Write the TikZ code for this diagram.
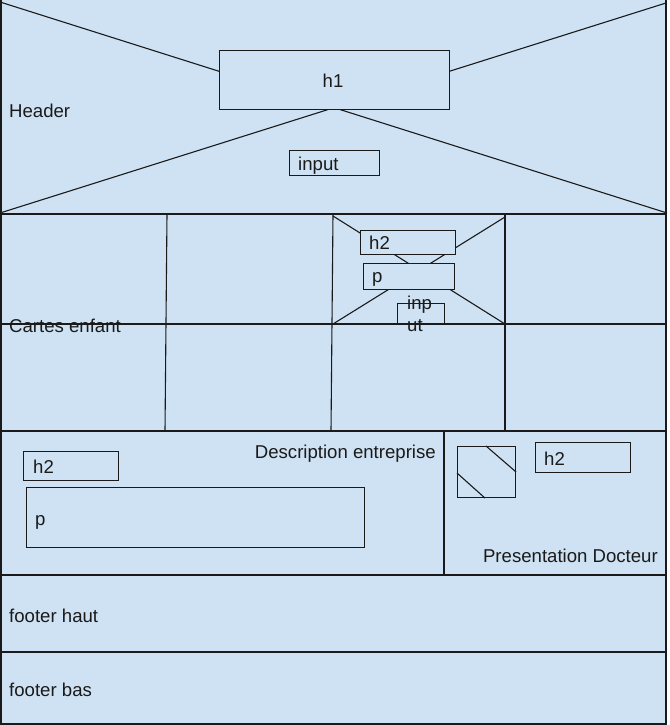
\documentclass[tikz,border=0pt]{standalone}
\usepackage{fontspec}
\setmainfont{Liberation Sans}
\definecolor{bg}{HTML}{CFE2F3}
\definecolor{ink}{HTML}{1A1A1A}
\begin{document}
\begin{tikzpicture}[x=1pt,y=-1pt,
  ln/.style={draw=ink, line width=1.1pt},
  box/.style={draw=ink, fill=bg, line width=1.1pt, inner sep=0pt, anchor=north west},
  lbl/.style={font=\fontsize{18.6}{21}\selectfont, text=ink, inner sep=0pt, anchor=base west},
]
\useasboundingbox (0,0) rectangle (669,725);
\fill[bg] (1,0) rectangle (666,724);

% corner / frame coordinates
\coordinate (tl) at (0,2);
\coordinate (tr) at (666,3);
\coordinate (hbl) at (0,213);
\coordinate (hbr) at (667,213);

% outer frame
\draw[ln] (1,0) -- (1,724) -- (666,724) -- (666,0);
% section dividers
\draw[ln] (1,214) -- (666,214);
\draw[ln] (1,324) -- (666,324);
\draw[ln] (1,431) -- (666,431);
\draw[ln] (1,575) -- (666,575);
\draw[ln] (1,652) -- (666,652);
% card columns
\draw[ln] (167,214) -- (165,431);
\draw[ln] (333,214) -- (331,431);
\draw[ln] (505,214) -- (505,431);
% presentation divider
\draw[ln] (444,431) -- (444,575);

% header cross
\draw[ln] (tl) -- (hbr);
\draw[ln] (tr) -- (hbl);
% card cross
\coordinate (ctl) at (333,216);
\coordinate (ctr) at (505,217);
\coordinate (cbl) at (333,324);
\coordinate (cbr) at (505,324);
\draw[ln] (ctl) -- (cbr);
\draw[ln] (ctr) -- (cbl);

% header boxes
\node[box, minimum width=230pt, minimum height=59pt] (h1) at (219,50) {};
\node[lbl, anchor=base] (h1t) at (333,88) {h1};
\node[box, minimum width=90pt, minimum height=25pt] (hin) at (289,150) {};
\node[lbl] (hint) at (298,170) {input};
\node[lbl] (hdr) at (9,117) {Header};

% card boxes
\node[box, minimum width=95pt, minimum height=24pt] (ch2) at (360,230) {};
\node[lbl] (ch2t) at (369,249) {h2};
\node[box, minimum width=91pt, minimum height=26pt] (cp) at (363,263) {};
\node[lbl] (cpt) at (372,282) {p};
\node[box, minimum width=47pt, minimum height=21pt] (cin) at (397,303) {};
\draw[ln] (1,324) -- (666,324);
\node[lbl] (cin1) at (407,309) {inp};
\node[lbl] (cin2) at (407,331) {ut};
\node[lbl] (cartes) at (9,332) {Cartes enfant};

% description entreprise
\node[lbl, anchor=base east] (desc) at (436,458) {Description entreprise};
\node[box, minimum width=95pt, minimum height=29pt] (dh2) at (23,451) {};
\node[lbl] (dh2t) at (33,473) {h2};
\node[box, minimum width=338pt, minimum height=60pt] (dp) at (26,487) {};
\node[lbl] (dpt) at (35,525) {p};

% presentation docteur
\node[box, minimum width=58pt, minimum height=51pt] (img) at (457,446) {};
\draw[ln] ([xshift=29pt]img.north west) -- ([yshift=-26pt]img.north east);
\draw[ln] ([yshift=-27pt]img.north west) -- ([xshift=28pt]img.south west);
\node[box, minimum width=95pt, minimum height=30pt] (ph2) at (535,442) {};
\node[lbl] (ph2t) at (544,465) {h2};
\node[lbl, anchor=base east] (pres) at (658,562) {Presentation Docteur};

% footers
\node[lbl] (fh) at (9,622) {footer haut};
\node[lbl] (fb) at (9,696) {footer bas};
\end{tikzpicture}
\end{document}
